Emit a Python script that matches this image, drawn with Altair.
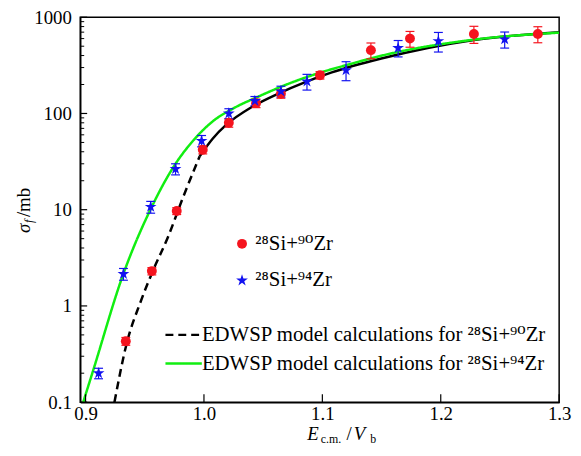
import altair as alt
import pandas as pd

# ---------------- data ----------------
lab90 = "²⁸Si+⁹⁰Zr"
lab94 = "²⁸Si+⁹⁴Zr"
model90 = "EDWSP model calculations for ²⁸Si+⁹⁰Zr"
model94 = "EDWSP model calculations for ²⁸Si+⁹⁴Zr"

zr90_x = [0.934, 0.956, 0.977, 0.999, 1.021, 1.044, 1.065, 1.098, 1.141, 1.174, 1.228, 1.282]
zr90_y = [0.43, 2.3, 9.7, 42, 80, 128, 160, 250, 455, 600, 670, 670]
zr90_err = [0.04, 0.2, 0.8, 4, 8, 13, 16, 22, 85, 112, 135, 127]

zr94_x = [0.911, 0.932, 0.955, 0.976, 0.998, 1.021, 1.043, 1.065, 1.087, 1.120, 1.164, 1.198, 1.254]
zr94_y = [0.20, 2.15, 10.7, 26.5, 52, 100, 135, 170, 215, 282, 480, 565, 590]
zr94_err = [0.025, 0.3, 1.5, 3.5, 7, 12, 15, 22, 40, 63, 93, 130, 112]

calc90_x = [0.9244, 0.935, 0.9462, 0.9573, 0.9699, 0.9824, 0.9964, 1.0075, 1.0187, 1.041,
            1.0633, 1.0856, 1.108, 1.1498, 1.228, 1.3]
calc90_y = [0.1, 0.42, 1.08, 2.38, 5.3, 13.5, 36, 55, 76, 118,
            162, 212, 267, 372, 580, 700]

calc94_x = [0.898, 0.9057, 0.9322, 0.9559, 0.974, 0.9925, 1.0075, 1.0243, 1.0466, 1.0689,
            1.0915, 1.125, 1.1498, 1.228, 1.3]
calc94_y = [0.1, 0.2, 2.2, 10.7, 27.5, 55, 83, 112, 151, 198,
            250, 330, 398, 585, 692]

dash_end = 0.9964

RED = "#f5141e"
BLUE = "#1212f0"
GREEN = "#11ee11"
FONT = "Liberation Serif, Times New Roman, DejaVu Serif, serif"
LEG_FONT = "Liberation Serif, Noto Sans CJK JP, DejaVu Serif, serif"

# five-pointed star symbol (Vega has no built-in star)
STAR = ("M0,-1.25L0.28,-0.386L1.189,-0.386L0.454,0.148L0.735,1.011L0,0.478"
        "L-0.735,1.011L-0.454,0.148L-1.189,-0.386L-0.28,-0.386Z")

# ---------------- tables ----------------
pts = pd.concat([
    pd.DataFrame({"series": lab90, "x": zr90_x, "y": zr90_y, "err": zr90_err, "ecol": RED}),
    pd.DataFrame({"series": lab94, "x": zr94_x, "y": zr94_y, "err": zr94_err, "ecol": BLUE}),
], ignore_index=True)
pts["lo"] = pts["y"] - pts["err"]
pts["hi"] = pts["y"] + pts["err"]

c90 = pd.DataFrame({"model": model90, "x": calc90_x, "y": calc90_y})
c94 = pd.DataFrame({"model": model94, "x": calc94_x, "y": calc94_y})
lines = pd.concat([c90[c90["x"] <= dash_end], c94], ignore_index=True)
solid = c90[c90["x"] >= dash_end]

y_major = [0.1, 1, 10, 100, 1000]
y_minor = [m * 10 ** k for k in range(-1, 3) for m in range(2, 10)]
x_major = [0.9, 1.0, 1.1, 1.2, 1.3]

xs = alt.Scale(domain=[0.8955, 1.3], nice=False, zero=False)
ys = alt.Scale(type="log", domain=[0.1, 1000], nice=False)

x_axis = alt.Axis(values=x_major, format=".1f", ticks=False, grid=False, labelFlush=False,
                  labelPadding=3, title=None, labelFont=FONT, labelFontSize=19,
                  labelColor="black", domainColor="black", domainWidth=1.5)
y_axis = alt.Axis(values=y_major, format="~g", ticks=False, grid=False, labelFlush=False,
                  labelPadding=9, title=None, labelFont=FONT, labelFontSize=19,
                  labelColor="black", domainColor="black", domainWidth=1.5)

X = lambda f: alt.X(f, scale=xs, axis=x_axis)
Y = lambda f: alt.Y(f, scale=ys, axis=y_axis)

# ---------------- layers ----------------
solid_line = alt.Chart(solid).mark_line(strokeWidth=2.5, interpolate="monotone", clip=True).encode(
    x=X("x:Q"), y=Y("y:Q"), stroke=alt.value("black"))

ln_legend = alt.Legend(title=None, orient="none", legendX=94, legendY=310.5,
                       symbolType="M-3,0H3", symbolSize=150, symbolStrokeWidth=2.5,
                       labelOffset=8, rowPadding=7, padding=0, labelLimit=500,
                       labelFont=LEG_FONT, labelFontSize=21, labelColor="black")

model_lines = alt.Chart(lines).mark_line(strokeWidth=2.5, interpolate="monotone", clip=True).encode(
    x=X("x:Q"), y=Y("y:Q"),
    stroke=alt.Stroke("model:N", scale=alt.Scale(domain=[model90, model94], range=["black", GREEN]),
                      legend=ln_legend),
    strokeDash=alt.StrokeDash("model:N", scale=alt.Scale(domain=[model90, model94], range=[[8, 5], [1, 0]]),
                              legend=ln_legend),
)

err_rules = alt.Chart(pts).mark_rule(strokeWidth=1.2).encode(
    x=X("x:Q"), y=Y("lo:Q"), y2="hi:Q", color=alt.Color("ecol:N", scale=None))

err_caps = alt.Chart(pts).transform_fold(["lo", "hi"], as_=["k", "v"]).mark_tick(
    orient="horizontal", size=9, thickness=1.2, opacity=1).encode(
    x=X("x:Q"), y=Y("v:Q"), color=alt.Color("ecol:N", scale=None))

pt_legend = alt.Legend(title=None, orient="none", legendX=153, legendY=218.5,
                       symbolSize=100, rowPadding=15, labelOffset=3, padding=0, labelLimit=500,
                       labelFont=LEG_FONT, labelFontSize=21, labelColor="black")

points = alt.Chart(pts).mark_point(filled=True, size=100, opacity=1).encode(
    x=X("x:Q"), y=Y("y:Q"),
    fill=alt.Fill("series:N", scale=alt.Scale(domain=[lab90, lab94], range=[RED, BLUE]), legend=pt_legend),
    shape=alt.Shape("series:N", scale=alt.Scale(domain=[lab90, lab94], range=["circle", STAR]),
                    legend=pt_legend),
)

ytick_major = alt.Chart(pd.DataFrame({"v": y_major})).mark_rule(color="black", strokeWidth=1.2).encode(
    y=Y("v:Q"), x=alt.value(0), x2=alt.value(7))
ytick_minor = alt.Chart(pd.DataFrame({"v": y_minor})).mark_rule(color="black", strokeWidth=1).encode(
    y=Y("v:Q"), x=alt.value(0), x2=alt.value(4))
xtick_major = alt.Chart(pd.DataFrame({"v": x_major})).mark_rule(color="black", strokeWidth=1.2).encode(
    x=X("v:Q"), y=alt.value(389), y2=alt.value(381))

dummy = pd.DataFrame({"d": [0]})


def txt(s, x, y, size=19, italic=False, angle=0):
    return alt.Chart(dummy).mark_text(
        text=s, font=FONT, fontSize=size, fontStyle="italic" if italic else "normal",
        align="left", baseline="alphabetic", angle=angle, color="black"
    ).encode(x=alt.value(x), y=alt.value(y))


titles = [
    txt("E", 229.5, 427, italic=True),
    txt("c.m.", 243, 430, size=12),
    txt("/", 269, 427),
    txt("V", 276.5, 427, italic=True),
    txt("b", 293, 430, size=12),
    txt("σ", -51, 218, italic=True, angle=270),
    txt("f", -48, 208, size=12, italic=True, angle=270),
    txt("/mb", -51, 202, angle=270),
]

chart = alt.layer(
    solid_line, model_lines, err_rules, err_caps, points,
    ytick_major, ytick_minor, xtick_major, *titles
).properties(
    width=484, height=389,
    autosize=alt.AutoSizeParams(type="none"),
    padding={"left": 73, "top": 7, "right": 14, "bottom": 45},
).configure_view(stroke="black", strokeWidth=1.5)

chart.save("out.html", embed_options={"renderer": "svg", "actions": False})
